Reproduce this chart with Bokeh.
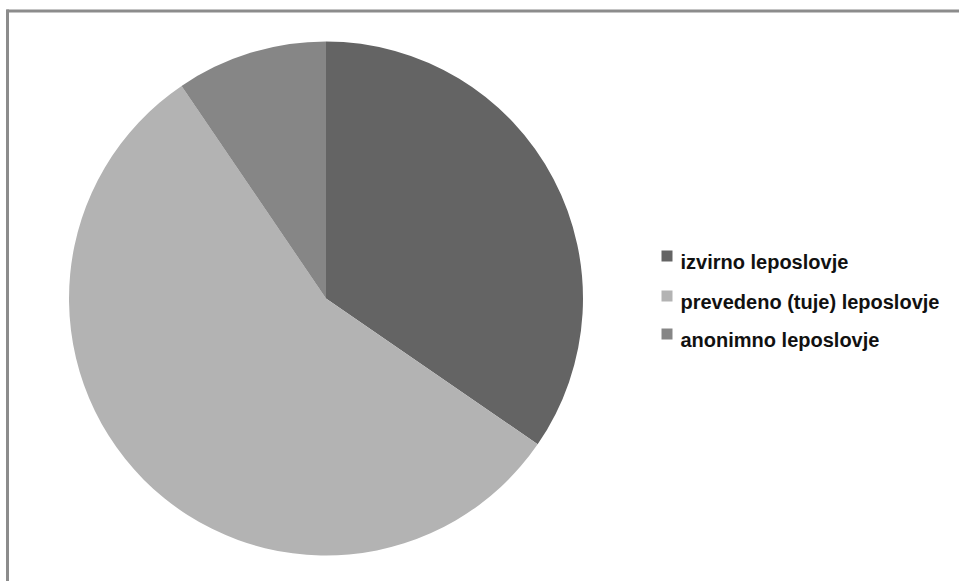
import math
from bokeh.plotting import figure
from bokeh.models import Range1d, ColumnDataSource
from bokeh.core.properties import value
from bokeh.embed import file_html
from bokeh.resources import INLINE

# ---- data ----
categories = ["izvirno leposlovje", "prevedeno (tuje) leposlovje", "anonimno leposlovje"]
shares = [34.6, 55.9, 9.5]

# ---- styles ----
palette = ["#646464", "#b3b3b3", "#868686"]
W, H = 959, 581
CX, CY, R = 325.5, 298.0, 257.0   # pie centre / radius in screen px
BORDER = "#8c8c8c"

def sy(y):
    return H - y

p = figure(width=W, height=H, output_backend="svg", toolbar_location=None,
           x_range=Range1d(0, W), y_range=Range1d(0, H),
           min_border=0, min_border_left=0, min_border_right=0,
           min_border_top=0, min_border_bottom=0)
p.axis.visible = False
p.grid.visible = False
p.outline_line_color = None
p.background_fill_color = "white"
p.border_fill_color = "white"

total = sum(shares)
starts, ends = [], []
cum = 0.0
for s in shares:
    a0 = math.pi / 2 - 2 * math.pi * cum / total
    cum += s
    a1 = math.pi / 2 - 2 * math.pi * cum / total
    starts.append(a0)
    ends.append(a1)

src = ColumnDataSource(dict(cat=categories, val=shares, start=starts, end=ends,
                            color=palette, x=[CX] * 3, y=[sy(CY)] * 3))
p.wedge(x="x", y="y", radius=R, start_angle="start", end_angle="end",
        direction="clock", fill_color="color", line_color=None, source=src)

# border (top and left only)
p.segment(x0=[6, 7], y0=[sy(10.5), sy(9)], x1=[W, 7], y1=[sy(10.5), 0],
          line_color=BORDER, line_width=3)

# legend
row_centres = [255.5, 295.5, 333.5]
leg = ColumnDataSource(dict(
    x=[666.5] * 3, y=[sy(c) for c in row_centres],
    tx=[680] * 3, ty=[sy(c + 6) for c in row_centres],
    label=categories, color=palette))
p.scatter(x="x", y="y", marker="square", size=11, fill_color="color",
          line_color=None, source=leg)
p.text(x="tx", y="ty", text="label", source=leg, text_font=value("Liberation Sans"),
       text_font_size="20px", text_font_style="bold", text_color="#111111",
       text_baseline="alphabetic", text_align="left")

open("out.html", "w").write(file_html(p, INLINE))
